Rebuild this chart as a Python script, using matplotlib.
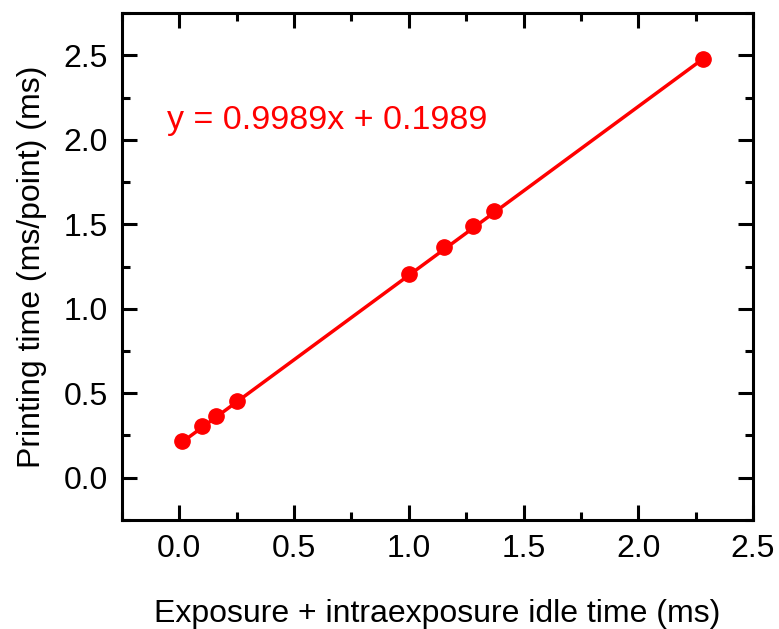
import matplotlib
matplotlib.use("Agg")
import matplotlib.pyplot as plt
import numpy as np
from matplotlib.ticker import MultipleLocator

x_vals = [0.01, 0.10, 0.16, 0.25, 1.00, 1.155, 1.28, 1.37, 2.28]
y_vals = [0.219, 0.308, 0.367, 0.456, 1.208, 1.365, 1.490, 1.578, 2.476]
slope = 0.9989
intercept = 0.1989
eq_text = "y = 0.9989x + 0.1989"
xlabel = "Exposure + intraexposure idle time (ms)"
ylabel = "Printing time (ms/point) (ms)"

plt.rcParams['font.family'] = ['Liberation Sans', 'DejaVu Sans']
fig = plt.figure(figsize=(7.79, 6.29), dpi=100)
ax = fig.add_axes([0.1566, 0.1733, 0.81, 0.806])

red = '#ff0000'
xf = np.array([min(x_vals), max(x_vals)])
ax.plot(xf, slope * xf + intercept, color=red, lw=2.5, zorder=2)
ax.plot(x_vals, y_vals, 'o', color=red, ms=11, zorder=3)

ax.set_xlim(-0.25, 2.5)
ax.set_ylim(-0.25, 2.75)
ax.xaxis.set_minor_locator(MultipleLocator(0.25))
ax.yaxis.set_minor_locator(MultipleLocator(0.25))
ax.set_yticks([0.0, 0.5, 1.0, 1.5, 2.0, 2.5])
ax.set_xticks([0.0, 0.5, 1.0, 1.5, 2.0, 2.5])
ax.xaxis.set_major_formatter(matplotlib.ticker.FormatStrFormatter('%.1f'))
ax.yaxis.set_major_formatter(matplotlib.ticker.FormatStrFormatter('%.1f'))

ax.tick_params(which='both', direction='in', top=True, right=True, width=2.2,
               labelsize=23, pad=10)
ax.tick_params(which='major', length=11)
ax.tick_params(which='minor', length=5.5)
for s in ax.spines.values():
    s.set_linewidth(2.2)

ax.set_xlabel(xlabel, fontsize=23, labelpad=25)
ax.set_ylabel(ylabel, fontsize=23, labelpad=12)

ax.text(-0.055, 2.115, eq_text, color=red, fontsize=24.5, ha='left', va='center')

fig.savefig('out.png', dpi=100)
